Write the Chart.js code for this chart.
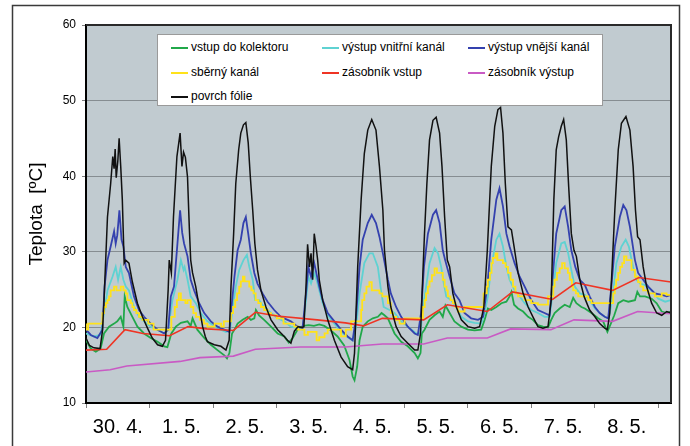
<!DOCTYPE html>
<html>
<head>
<meta charset="utf-8">
<script src="https://cdn.jsdelivr.net/npm/chart.js@4.4.1/dist/chart.umd.min.js"></script>
<style>
body { margin: 0; background: #fff; }
#wrap { position: relative; width: 690px; height: 446px; }
#legend { position: absolute; left: 157px; top: 34px; width: 444px; height: 70px; background: #fff; border: 1px solid #9a9a9a; font: 12px "Liberation Sans", Arial, sans-serif; color: #000; }
.item { position: absolute; height: 16px; line-height: 16px; white-space: nowrap; }
.item .ln { display: inline-block; width: 17px; height: 2px; vertical-align: middle; margin-right: 3px; }
</style>
</head>
<body>
<div id="wrap">
  <canvas id="chart" width="690" height="446"></canvas>
  <div id="legend"></div>
</div>
<script>
// osa x v hodinách od 30. 4. 0:00
const dayLabels = ['30. 4.', '1. 5.', '2. 5.', '3. 5.', '4. 5.', '5. 5.', '6. 5.', '7. 5.', '8. 5.'];

// vstup do kolektoru
const vstupH = [0, 1.8, 3.7, 5.5, 6.8, 8.7, 10.6, 11.8, 13.1, 14.1, 14.6, 15.6, 17.5, 19.4, 21.9, 24.4, 27, 29.5, 30.7, 32.2, 33.9, 35.8, 38.3, 39.5, 40.2, 42, 44.6, 47.1, 49.6, 52.2, 53.2, 54.1, 55.1, 56, 57.2, 59.1, 61, 62.2, 63.5, 64.1, 65.3, 67.2, 69.8, 72.3, 74.8, 76.5, 78, 80, 82, 84, 86, 88, 89.9, 92.4, 94.9, 97.4, 99.4, 100.6, 101.3, 102.3, 103.2, 104.4, 106.3, 108.2, 110.1, 111.5, 112.6, 113.9, 116.4, 118.9, 121.4, 124, 125.2, 126.2, 126.7, 127.7, 129.6, 131.5, 133.4, 134.6, 135.6, 137.2, 139, 141.6, 144.1, 146.6, 149.1, 150.4, 151.6, 152.9, 154.8, 156.7, 158.6, 159.8, 160.5, 161.5, 163, 164.9, 166.8, 168.6, 170.5, 172.4, 174.3, 175.5, 176.8, 178.7, 180.6, 182.5, 183.8, 185, 186.9, 188.2, 190.7, 193.2, 195.1, 196.7, 198, 199.3, 200.8, 202.7, 204.6, 207.1, 208, 209, 210.9, 213.4, 215.3, 217.2, 219.1, 220.7];
const vstupT = [18.3, 17.2, 16.8, 17.2, 19.2, 20.1, 20.5, 20.8, 21.4, 20.1, 24.1, 22.7, 21.4, 20.1, 19.2, 18.6, 18.1, 17.5, 17.4, 19.2, 20.1, 20.6, 20.8, 20.2, 21.2, 19.7, 18.6, 17.7, 17, 16.3, 15.9, 16.6, 19.2, 19.7, 20.5, 21, 21.4, 21, 21.2, 22.3, 21.6, 21, 20.1, 19.2, 18.8, 18, 18.6, 19.8, 20.2, 20.3, 20.2, 20.4, 20.2, 19.6, 18.8, 17.6, 15.7, 13.5, 13, 14.8, 18.3, 20.1, 20.8, 21.2, 21.4, 21.9, 21.6, 21.2, 19.2, 18.1, 17.5, 16.6, 15.9, 16.6, 19.2, 19.7, 21, 21.6, 22.1, 21.4, 22.9, 21.9, 20.8, 20.1, 19.7, 19.6, 19.7, 21, 22.5, 22.3, 22.7, 23.2, 23.4, 24.1, 24.7, 23, 22.5, 22.1, 21.4, 21, 20.3, 20.1, 20, 21, 21.9, 22.5, 23, 22.7, 23.9, 23.2, 22.7, 22.5, 21.9, 21.2, 20.8, 19.4, 20.5, 21.6, 23.2, 23.6, 23.4, 23.6, 24.7, 24.1, 24.1, 23.8, 23.2, 22.1, 21.9, 22.1];

// výstup vnitřní kanál
const vnitrniH = [0, 3, 5.5, 6.8, 8.1, 10, 11.2, 12.1, 13.1, 14.1, 15, 16.2, 18.1, 20, 21.9, 24.4, 27, 29.5, 31, 32.6, 34.5, 35.8, 36.8, 37.2, 38.3, 39.5, 41.4, 43.3, 45.8, 49.6, 52.8, 54.4, 55.3, 56.5, 57.8, 59.4, 60.7, 61.6, 62.9, 63.8, 65.3, 67.2, 69.8, 72.3, 74.8, 77.3, 79.8, 81.7, 83, 83.9, 84.9, 86.1, 87.2, 88, 89.3, 91.2, 93.7, 96.2, 98.7, 100.6, 101.9, 103.2, 105, 106.9, 108.2, 110.1, 111.3, 112.3, 114.5, 116.4, 118.9, 121.4, 124.6, 126.2, 127.1, 128.3, 129.6, 131.5, 132.8, 134, 135, 135.9, 137.8, 139.7, 141.6, 144.1, 146.6, 149.1, 150.4, 151.6, 152.9, 154.8, 156, 157.3, 158.6, 159.8, 161.7, 163.6, 165.5, 168, 170.5, 173, 174.9, 176.2, 177.4, 179.3, 180.6, 181.9, 183.1, 184.4, 186.3, 188.2, 190, 192, 193.8, 195.7, 197.2, 198.5, 200.1, 202, 203.6, 204.8, 206.4, 207.7, 209, 210.9, 213.4, 215.9, 218.5, 220.7];
const vnitrniT = [19.2, 18.8, 19, 21.9, 24.9, 26.7, 28, 26.3, 28, 26.3, 25.4, 24.9, 22.7, 21.4, 20.8, 20.1, 19.7, 19.2, 19.7, 23.6, 26.3, 28.9, 27.6, 28, 26.3, 24.1, 23.2, 21.9, 20.8, 19.9, 19.4, 19.7, 22.7, 25.4, 27.6, 28.9, 29.6, 28, 26.3, 23.6, 23.6, 22.7, 21.9, 21.2, 20.8, 20.1, 19.9, 19.7, 23.6, 26.7, 25.8, 27.2, 26, 24.9, 23.2, 21.6, 20.5, 19.4, 18.7, 18.3, 20.1, 24.5, 28.5, 29.8, 29.8, 28, 24.9, 22.7, 22.3, 21.9, 20.8, 20.1, 19.2, 19.2, 22.7, 25.4, 28.5, 30.5, 29.8, 28, 25.8, 24.1, 23.6, 22.7, 21.4, 20.8, 20.6, 20.5, 21.9, 24.1, 28, 31.6, 32.4, 30.7, 28, 26.3, 24.9, 24.1, 23.2, 22.3, 21.9, 21.4, 21.4, 24.9, 28.5, 31.1, 31.3, 29.8, 27.6, 25.4, 24.5, 24.3, 23.6, 22.5, 21.9, 21.4, 21.2, 23.6, 28.5, 30.7, 31.6, 30.7, 28, 26.3, 25.8, 25.6, 24.9, 23.8, 23.4, 23.6];

// výstup vnější kanál
const vnejsiH = [0, 1.8, 4.3, 6.2, 7, 8.1, 9.3, 10.6, 11.2, 11.8, 12.6, 13.4, 14.1, 15, 16.2, 18.1, 20, 21.9, 24.4, 27, 29.5, 31, 32, 33.2, 34.5, 35.5, 36.3, 37, 38.3, 39.5, 40.8, 42.7, 44.6, 47.1, 49.6, 52.2, 54.1, 54.9, 56, 57.2, 58.4, 59.4, 60.3, 61.2, 62.2, 63.5, 64.7, 66.6, 68.5, 71, 73.5, 74.8, 77.3, 79.8, 81.7, 83, 83.9, 84.9, 86.1, 87.2, 88, 89.3, 91.2, 93.7, 96.2, 98.7, 100.6, 101.9, 103.2, 104.4, 106.3, 107.8, 109.4, 110.7, 112, 113.9, 115, 117, 118.9, 121.4, 124, 125.2, 126.4, 127.5, 129, 130.9, 132.1, 133.4, 134.6, 135.5, 137.2, 139, 140.9, 142.8, 145.3, 147.9, 149.8, 151.4, 152.9, 154.8, 156, 157.3, 158.6, 159.8, 161.7, 163.6, 165.5, 168, 170.5, 173, 174.9, 176.2, 177.4, 179.3, 180.6, 181.9, 183.1, 184.6, 186.3, 188.2, 190, 192, 193.8, 195.7, 197, 198.2, 199.5, 201.4, 202.7, 203.9, 205.2, 207.1, 208.3, 210.2, 212.1, 214.6, 217.2, 219.1, 220.7];
const vnejsiT = [19.7, 19, 18.6, 19.7, 25.4, 28.9, 30.7, 32.7, 31.1, 32.2, 35.5, 31.6, 30.7, 28, 27.2, 24.1, 22.3, 21.4, 20.5, 19.7, 19.2, 19.7, 24.1, 25.4, 31.1, 35.5, 32.5, 31.1, 29.4, 26.3, 24.9, 23.2, 21.9, 20.8, 20.1, 19.7, 19.4, 22.7, 26.7, 30.2, 31.6, 33.8, 34.6, 32.4, 29.8, 27.2, 25.8, 24.5, 23.4, 22.3, 21.4, 21.2, 20.8, 20.1, 19.9, 24.5, 28, 26.7, 28.5, 26.7, 25.4, 23.6, 21.9, 20.8, 19.7, 18.8, 18.3, 21.4, 28, 31.6, 33.8, 34.9, 33.8, 32, 29.8, 26.3, 24.5, 22.7, 21.4, 20.1, 19.2, 19, 21.9, 28, 32.4, 34.9, 35.5, 33.8, 30.2, 28.9, 26.7, 24.5, 23.6, 21.9, 21.2, 21, 21.4, 25.4, 31.6, 36.9, 38.4, 36, 32.4, 30.7, 28.5, 26.7, 25.4, 23.6, 22.3, 21.9, 21.6, 27.2, 32.4, 35.5, 36, 33.3, 30.2, 28, 26.3, 25.6, 24.1, 22.7, 21.9, 21.4, 21.2, 25.4, 30.7, 34.6, 36.2, 35.5, 33.3, 28.9, 27.2, 26.3, 25.4, 24.5, 24.3, 24.1, 24.3];

// sběrný kanál (schodovitý průběh)
const sbernyH = [0, 0.8, 6.2, 6.8, 7.5, 8.1, 8.7, 9.3, 10.6, 11.5, 13.1, 14.1, 15, 15.6, 16.9, 17.5, 18.1, 19, 20, 21.3, 23.5, 25.5, 32.2, 33.5, 34.3, 35, 35.8, 37.5, 38.3, 39.5, 40.5, 41.5, 43, 44.5, 45.8, 48.5, 51, 52, 54.7, 55.5, 56.3, 57, 57.8, 58.4, 59.2, 59.8, 61.6, 62.4, 63.2, 64, 65, 66, 67.2, 68.5, 69.8, 72, 74.5, 78.6, 80, 82.4, 83.7, 87, 88, 90, 91.2, 96.2, 98, 100, 103.8, 104.2, 105, 105.8, 106.9, 107.8, 110.7, 111.8, 113.9, 115, 115.8, 117, 118.3, 120.2, 127.1, 127.8, 128.3, 129, 129.6, 130.5, 131.5, 132.4, 134.6, 135.3, 136, 136.5, 137.5, 138.4, 139.4, 140.3, 142.8, 150, 151.2, 151.6, 152.4, 153, 153.5, 154.5, 155.2, 157.3, 158.3, 159.2, 160.2, 161.1, 162, 163, 165.5, 168, 170.5, 174.3, 176.3, 176.8, 177.7, 178.7, 179.6, 180.6, 181.8, 182.5, 183.3, 183.8, 184.8, 185.7, 189.5, 190.7, 198.9, 199.5, 200, 200.8, 201.5, 202.3, 203, 203.9, 205.8, 207.1, 208.3, 209.2, 210.2, 212.1, 214.6, 217.2, 219, 220.7];
const sbernyT = [20.5, 19.7, 20.5, 21.9, 22.7, 23.2, 23.6, 24.1, 24.9, 25.4, 24.9, 25.4, 24.9, 24.5, 23.6, 23.2, 22.7, 22.3, 21.9, 21.4, 21, 20.5, 19.7, 21.4, 22.7, 23.6, 24.5, 23.6, 23.2, 23.6, 22.7, 21.9, 21.4, 21, 20.5, 20.1, 20.5, 20.1, 20.8, 21.9, 22.7, 23.6, 24.5, 25.4, 26.1, 26.7, 26.1, 25.4, 24.9, 24.5, 23.6, 23.2, 22.7, 22.3, 21.9, 21.6, 21.2, 20.5, 20.1, 19.7, 19, 19.4, 18.3, 18.7, 19.2, 19.7, 18.8, 19.7, 20.8, 22.3, 23.6, 24.5, 25.4, 26, 24.9, 24.5, 24.1, 23.2, 21.9, 21.4, 21, 20.5, 21.2, 22.7, 23.6, 24.5, 25.4, 26.1, 26.9, 27.8, 27.2, 26.3, 25.4, 24.9, 24.1, 23.6, 23.2, 22.7, 22.1, 22.7, 24.5, 25.4, 26.3, 27.2, 28.5, 29.2, 29.8, 28.9, 28.5, 28, 27.2, 26.3, 25.4, 24.5, 24.1, 23.6, 23.2, 23, 24.1, 25.4, 26.3, 27.2, 27.8, 28.5, 27.8, 27.2, 26.3, 25.4, 24.9, 24.5, 24.1, 23.6, 23.2, 24.5, 25.4, 26.3, 27.2, 28, 28.5, 29.4, 28.9, 27.6, 26.7, 26, 25.4, 24.9, 24.5, 24.1, 24.5, 24.3];

// zásobník vstup
const zasVstupH = [0, 7.8, 14.7, 21.5, 31.5, 38.5, 45.6, 55.6, 63.9, 72.1, 87.2, 97.9, 104.7, 111.8, 127.4, 136.3, 151.4, 160.9, 176, 184.8, 198.7, 208.6, 220.7];
const zasVstupT = [17.0, 17.1, 19.7, 19.2, 18.9, 20.1, 19.8, 19.6, 22.0, 21.5, 21.0, 20.6, 20.2, 21.2, 21.0, 23.0, 22.1, 24.7, 23.7, 25.9, 24.9, 26.6, 26.0];

// zásobník výstup
const zasVystupH = [0, 9.1, 15.4, 35.5, 43, 55.6, 63.9, 80.9, 97.9, 104.7, 111.8, 127.4, 136.3, 151.4, 160.2, 175.4, 184.1, 198.7, 208.1, 220.7];
const zasVystupT = [14.1, 14.4, 14.9, 15.5, 16.0, 16.2, 17.1, 17.4, 17.4, 17.6, 17.8, 17.8, 18.6, 18.6, 19.8, 19.7, 21.0, 20.8, 22.1, 21.8];

// povrch fólie
const folieH = [0, 1.3, 3, 5.3, 6.2, 6.8, 8.1, 9.3, 10.1, 10.6, 11, 11.4, 12, 12.5, 13.1, 13.7, 14.4, 15, 16.2, 17.5, 19.4, 21.3, 23.2, 25, 27, 28.8, 30, 31, 31.4, 32.2, 33, 34.3, 35.5, 36.2, 36.8, 37.5, 38.3, 39, 39.5, 40.2, 41.4, 42.7, 44, 45, 45.8, 48.4, 50.9, 52.8, 54, 54.7, 55.7, 56.5, 57.6, 58.4, 59.4, 60.3, 61.2, 62, 62.9, 63.7, 64.7, 66, 67.9, 69.8, 72.3, 74.8, 76, 77.3, 78.6, 80, 81.5, 82.2, 83, 83.6, 84.3, 84.9, 85.5, 86.1, 86.8, 87.4, 88, 89.3, 91.2, 93.7, 96.2, 98.7, 100.6, 101.3, 102.5, 103.8, 104.4, 105, 106.3, 107.8, 109.4, 110.7, 112, 112.6, 113.9, 115, 117, 118.9, 121.4, 124, 125.2, 126.2, 127.1, 127.7, 128.6, 129.6, 130.9, 132.1, 133.4, 134.3, 135.3, 136.3, 137.2, 138.4, 139.7, 141.6, 144.1, 146.6, 148.5, 150.1, 151.4, 152.9, 154.2, 155.4, 156.4, 157.3, 158.2, 159.2, 160.5, 161.5, 163, 164.9, 166.8, 168.6, 170.5, 172.4, 174.3, 175.5, 176.5, 177.4, 178.3, 179.3, 180.2, 181.2, 182.1, 183.1, 184.1, 185, 186.3, 187.9, 190, 192, 193.8, 195.7, 196.7, 197.6, 198.5, 199.5, 200.8, 202, 203.7, 205.2, 206.4, 207.3, 208.1, 209, 210.2, 211.5, 213.4, 215.3, 217.2, 219.1, 220.7];
const folieT = [18.6, 17.6, 17.3, 17.2, 19.5, 23.6, 34.6, 39, 42.6, 41, 43.6, 39.8, 42, 45, 41.3, 36.9, 28.5, 28.9, 28.5, 26, 23.2, 21.4, 19.9, 18.6, 17.7, 17.5, 18.3, 25, 28.9, 27.2, 34.6, 42.6, 45.7, 41.3, 43.2, 42.5, 39.9, 33, 28.9, 27.2, 25.4, 22.7, 20.1, 18.8, 18.1, 17.7, 17.5, 17, 18.3, 25.4, 32.4, 39, 43.5, 45.7, 46.8, 47.1, 44.4, 39.9, 35.5, 31.1, 27.6, 24.9, 22.7, 21, 19.7, 18.8, 18.3, 17.9, 19.5, 20.1, 20, 20.1, 25.4, 31, 28, 29.8, 26.3, 32.4, 30.7, 28.9, 26.3, 23.6, 21, 18.3, 16.1, 14.8, 14.4, 16.6, 28, 36.9, 40, 43, 46.1, 47.5, 46.1, 41.3, 35.5, 30.2, 25.4, 22.7, 20.1, 18.8, 17.9, 17, 17, 19.2, 27.2, 32.4, 39, 44.8, 47.4, 47.8, 45.7, 41.3, 34.6, 28.9, 28, 24.5, 22.7, 21, 20.1, 19.9, 20.1, 22.7, 30.2, 41.3, 46.6, 48.8, 49.1, 45.7, 39, 33.3, 32.9, 30.7, 27.2, 24.5, 22.7, 21.4, 20.1, 19.9, 20.1, 23.6, 36.9, 43.5, 45.2, 46.6, 47.5, 44.8, 38.6, 32.4, 30.2, 29.4, 26.3, 24.1, 22.3, 21.4, 20.5, 19.9, 19.7, 21.9, 28, 35.5, 43.5, 47, 47.9, 46.1, 41.3, 35.5, 32, 31.6, 28, 25.4, 23.2, 21.9, 21.6, 22.1, 21.9];

const pts = (hs, ts) => hs.map((h, i) => ({ x: h, y: ts[i] }));

const series = [
  { label: 'vstup do kolektoru', h: vstupH, t: vstupT, color: '#21a84a', order: 6, w: 1.8 },
  { label: 'výstup vnitřní kanál', h: vnitrniH, t: vnitrniT, color: '#5fd2d2', order: 5, w: 1.8 },
  { label: 'výstup vnější kanál', h: vnejsiH, t: vnejsiT, color: '#3441ae', order: 4, w: 1.8 },
  { label: 'sběrný kanál', h: sbernyH, t: sbernyT, color: '#ffe21a', order: 3, w: 1.8, stepped: 'after' },
  { label: 'zásobník vstup', h: zasVstupH, t: zasVstupT, color: '#ef3424', order: 2, w: 1.6 },
  { label: 'zásobník výstup', h: zasVystupH, t: zasVystupT, color: '#c95ac4', order: 1, w: 1.6 },
  { label: 'povrch fólie', h: folieH, t: folieT, color: '#111111', order: 0, w: 1.5 }
];

const tickHours = [];
for (let i = 0; i <= dayLabels.length; i++) {
  tickHours.push(i * 24);
  if (i < dayLabels.length) tickHours.push(i * 24 + 12);
}

// pozadí grafu a rámečky
const frame = {
  id: 'frame',
  beforeDraw(chart) {
    const { ctx, chartArea: a } = chart;
    ctx.save();
    ctx.fillStyle = '#fff';
    ctx.fillRect(0, 0, chart.width, chart.height);
    ctx.strokeStyle = '#3a3a3a';
    ctx.lineWidth = 1.5;
    ctx.beginPath();
    ctx.moveTo(12.5, 446);
    ctx.lineTo(12.5, 5.5);
    ctx.lineTo(679.5, 5.5);
    ctx.lineTo(679.5, 446);
    ctx.stroke();
    ctx.fillStyle = '#c1cbd0';
    ctx.fillRect(a.left, a.top, a.right - a.left, a.bottom - a.top);
    ctx.restore();
  },
  afterDraw(chart) {
    const { ctx, chartArea: a } = chart;
    ctx.save();
    ctx.strokeStyle = '#2a2a2a';
    ctx.lineWidth = 2;
    ctx.beginPath();
    ctx.moveTo(a.left, a.top);
    ctx.lineTo(a.right, a.top);
    ctx.lineTo(a.right, a.bottom);
    ctx.stroke();
    ctx.restore();
  }
};

const chart = new Chart(document.getElementById('chart'), {
  type: 'line',
  data: {
    datasets: series.map(s => ({
      label: s.label,
      data: pts(s.h, s.t),
      borderColor: s.color,
      backgroundColor: s.color,
      borderWidth: s.w,
      pointRadius: 0,
      tension: 0,
      fill: false,
      stepped: s.stepped || false,
      order: s.order
    }))
  },
  options: {
    responsive: false,
    animation: false,
    layout: { padding: { left: 0, top: 25, right: 19, bottom: 0 } },
    plugins: { legend: { display: false }, tooltip: { enabled: false } },
    scales: {
      x: {
        type: 'linear',
        min: 0,
        max: 220.7,
        afterBuildTicks: s => { s.ticks = tickHours.map(v => ({ value: v })); },
        afterFit: s => { s.height = 43; },
        ticks: {
          autoSkip: false,
          maxRotation: 0,
          padding: 7,
          color: '#000',
          font: { family: '"Liberation Sans Narrow", "Liberation Sans", Arial', size: 20 },
          callback: v => (v % 24 === 12 ? dayLabels[(v - 12) / 24] : '')
        },
        grid: {
          drawOnChartArea: false,
          tickLength: 5,
          tickColor: c => (c.tick && c.tick.value % 24 === 0 ? '#808080' : 'rgba(0,0,0,0)')
        },
        border: { color: '#000', width: 2 }
      },
      y: {
        min: 10,
        max: 60,
        afterFit: s => { s.width = 86; },
        ticks: {
          stepSize: 10,
          padding: 6,
          color: '#000',
          font: { family: '"Liberation Sans", Arial', size: 12 }
        },
        grid: { color: '#868d91', lineWidth: 1, tickLength: 4, tickColor: '#808080' },
        border: { color: '#000', width: 2 },
        title: {
          display: true,
          text: 'Teplota  [ºC]',
          color: '#000',
          font: { family: '"Liberation Sans", Arial', size: 19 },
          padding: { top: 25, bottom: 0 }
        }
      }
    }
  },
  plugins: [frame]
});

// legenda ve třech sloupcích
const legendCols = [13, 164, 310];
const legendRows = [4, 29, 53];
const legendBox = document.getElementById('legend');
chart.data.datasets.forEach((ds, i) => {
  const it = document.createElement('div');
  it.className = 'item';
  it.style.left = legendCols[i % 3] + 'px';
  it.style.top = legendRows[Math.floor(i / 3)] + 'px';
  it.innerHTML = '<span class="ln" style="background:' + ds.borderColor + '"></span>' + ds.label;
  legendBox.appendChild(it);
});
</script>
</body>
</html>
